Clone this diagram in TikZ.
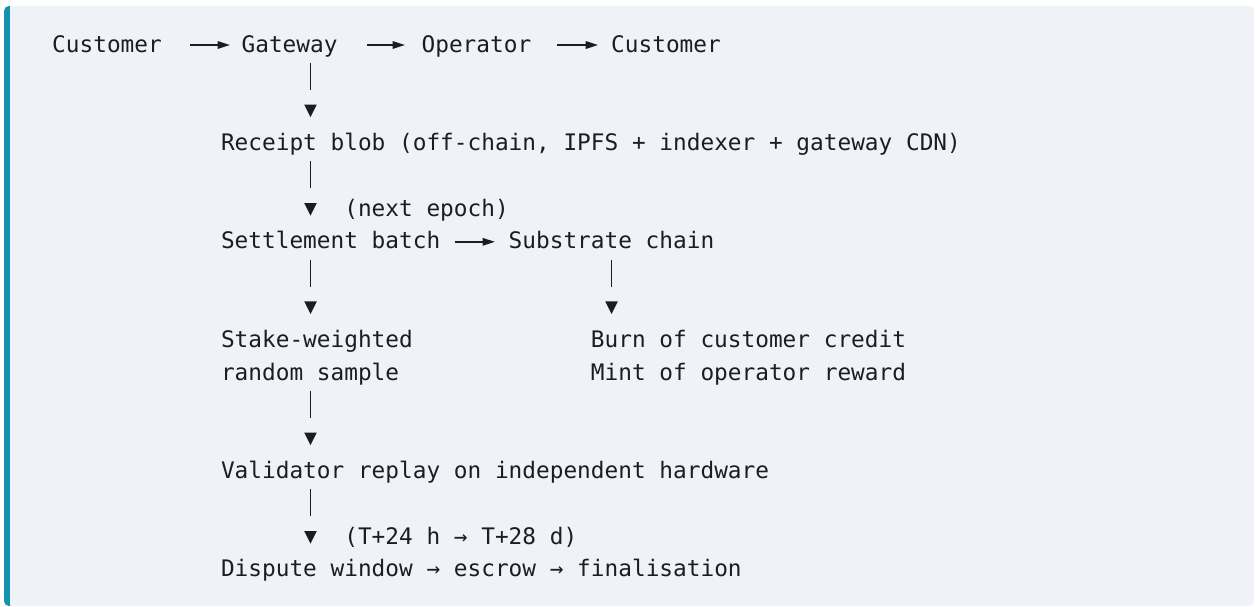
\documentclass[tikz,border=0pt]{standalone}
\usepackage{fontspec}
\newfontfamily\monofont{DejaVu Sans Mono}
\usetikzlibrary{arrows.meta,calc}
\definecolor{bg}{HTML}{EFF3F8}
\definecolor{accent}{HTML}{1592B0}
\definecolor{ink}{HTML}{1A1D21}
\newcommand\vlink[3]{%
  \draw[bar] ($(#3,0 |- #1.base)+(0,11)$) -- ($(#3,0 |- #2.base)+(0,-60.4)$);
  \fill[ink] ($(#3,0 |- #2.base)+(-6.3,-45.8)$) -- ++(12.6,0) -- ++(-6.3,12.6) -- cycle;
}
\begin{document}
\begin{tikzpicture}[x=1pt,y=-1pt,
  txt/.style={anchor=base west, inner sep=0pt, outer sep=0pt,
    font=\monofont\fontsize{22.76}{27}\selectfont, text=ink},
  harrow/.style={draw=ink, line width=1.7pt, -{Triangle[length=12.5pt,width=7.5pt]}},
  bar/.style={draw=ink, line width=1.9pt}]
\useasboundingbox (0,0) rectangle (1255,606);
\fill[white] (0,0) rectangle (1255,606);
\begin{scope}
  \clip[rounded corners=5pt] (4,6) rectangle (1254,606);
  \fill[bg] (4,6) rectangle (1254,606);
  \fill[accent] (4,6) rectangle (10,606);
\end{scope}

\node[txt] (c1) at (52.2,52) {Customer};
\node[txt] (gw) at (241.6,52) {Gateway};
\node[txt] (op) at (421.6,52) {Operator};
\node[txt] (c2) at (611.2,52) {Customer};
\node[txt] (rb) at (221,150.4) {Receipt blob (off-chain, IPFS + indexer + gateway CDN)};
\node[txt] (ne) at (344.3,216) {(next epoch)};
\node[txt] (sb) at (221,248.8) {Settlement batch};
\node[txt] (sc) at (508.7,248.8) {Substrate chain};
\node[txt] (sw) at (221,347.2) {Stake-weighted};
\node[txt] (rs) at (221,380) {random sample};
\node[txt] (bc) at (590.9,347.2) {Burn of customer credit};
\node[txt] (mo) at (590.9,380) {Mint of operator reward};
\node[txt] (vr) at (221,478.4) {Validator replay on independent hardware};
\node[txt] (tw) at (344.3,544) {(T+24 h → T+28 d)};
\node[txt] (dw) at (221,576.8) {Dispute window → escrow → finalisation};

\draw[harrow] ([shift={(28.2,-7)}]c1.base east) -- ([shift={(-11.6,-7)}]gw.base west);
\draw[harrow] ([shift={(29.5,-7)}]gw.base east) -- ([shift={(-16.6,-7)}]op.base west);
\draw[harrow] ([shift={(25.8,-7)}]op.base east) -- ([shift={(-13,-7)}]c2.base west);
\draw[harrow] ([shift={(14.8,-7)}]sb.base east) -- ([shift={(-13.7,-7)}]sc.base west);

\vlink{gw}{rb}{310.5}
\vlink{rb}{sb}{310.5}
\vlink{sb}{sw}{310.5}
\vlink{sc}{bc}{611.5}
\vlink{rs}{vr}{310.5}
\vlink{vr}{dw}{310.5}
\end{tikzpicture}
\end{document}
